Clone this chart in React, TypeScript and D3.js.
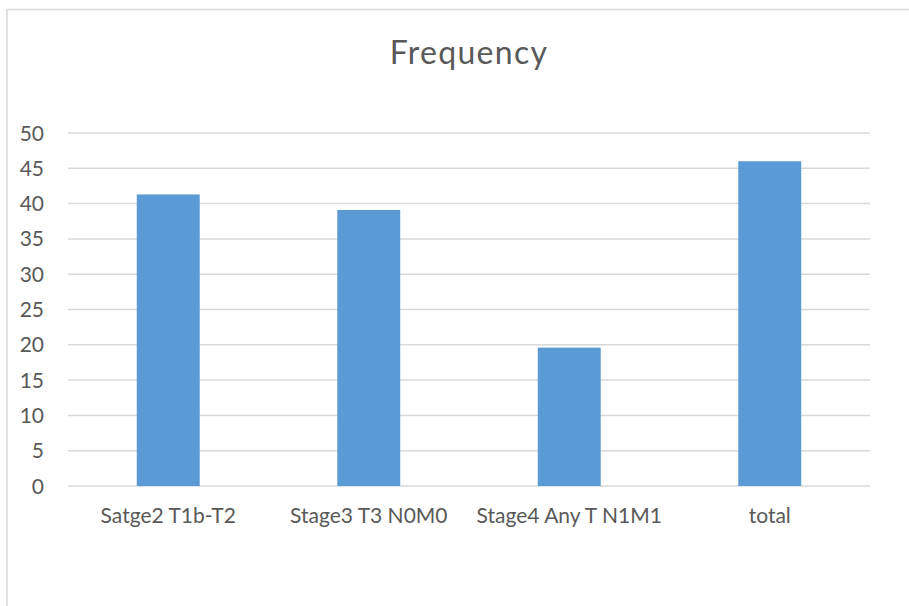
import React from "react";
import * as d3 from "d3";

// Frequency per stage group
const categories = ["Satge2 T1b-T2", "Stage3 T3 N0M0", "Stage4 Any T N1M1", "total"];
const frequency = [41.3, 39.1, 19.6, 46.0];
const yTicks = [0, 5, 10, 15, 20, 25, 30, 35, 40, 45, 50];

const W = 909;
const H = 606;
const plot = { left: 68, right: 870, top: 133, bottom: 486 };
const FONT = "Lato, 'Open Sans', sans-serif";
const TEXT = "#595959";
const GRID = "#d9d9d9";
const BAR = "#5b9bd5";

export default function App() {
  const x = d3
    .scaleBand<string>()
    .domain(categories)
    .range([plot.left, plot.right])
    .paddingInner(0.686)
    .paddingOuter(0.343);
  const y = d3.scaleLinear().domain([0, 50]).range([plot.bottom, plot.top]);

  return (
    <svg
      width={W}
      height={H}
      style={{ position: "absolute", left: 0, top: 0, background: "#fff" }}
    >
      {/* chart area frame */}
      <rect x={7} y={9.5} width={W} height={H} fill="#fff" stroke={GRID} strokeWidth={1.5} />

      <text
        x={(plot.left + plot.right) / 2}
        y={64}
        textAnchor="middle"
        fontFamily={FONT}
        fontSize={32}
        letterSpacing={1.3}
        fill={TEXT}
      >
        Frequency
      </text>

      {yTicks.map((t) => (
        <g key={t}>
          <line
            x1={plot.left}
            x2={plot.right}
            y1={y(t)}
            y2={y(t)}
            stroke={GRID}
            strokeWidth={1.5}
          />
          <text
            x={44}
            y={y(t) + 7.5}
            textAnchor="end"
            fontFamily={FONT}
            fontSize={21}
            fill={TEXT}
          >
            {t}
          </text>
        </g>
      ))}

      {categories.map((c, i) => (
        <g key={c}>
          <rect
            x={x(c)}
            y={y(frequency[i])}
            width={x.bandwidth()}
            height={y(0) - y(frequency[i])}
            fill={BAR}
          />
          <text
            x={(x(c) ?? 0) + x.bandwidth() / 2}
            y={523}
            textAnchor="middle"
            fontFamily={FONT}
            fontSize={21}
            fill={TEXT}
          >
            {c}
          </text>
        </g>
      ))}
    </svg>
  );
}
